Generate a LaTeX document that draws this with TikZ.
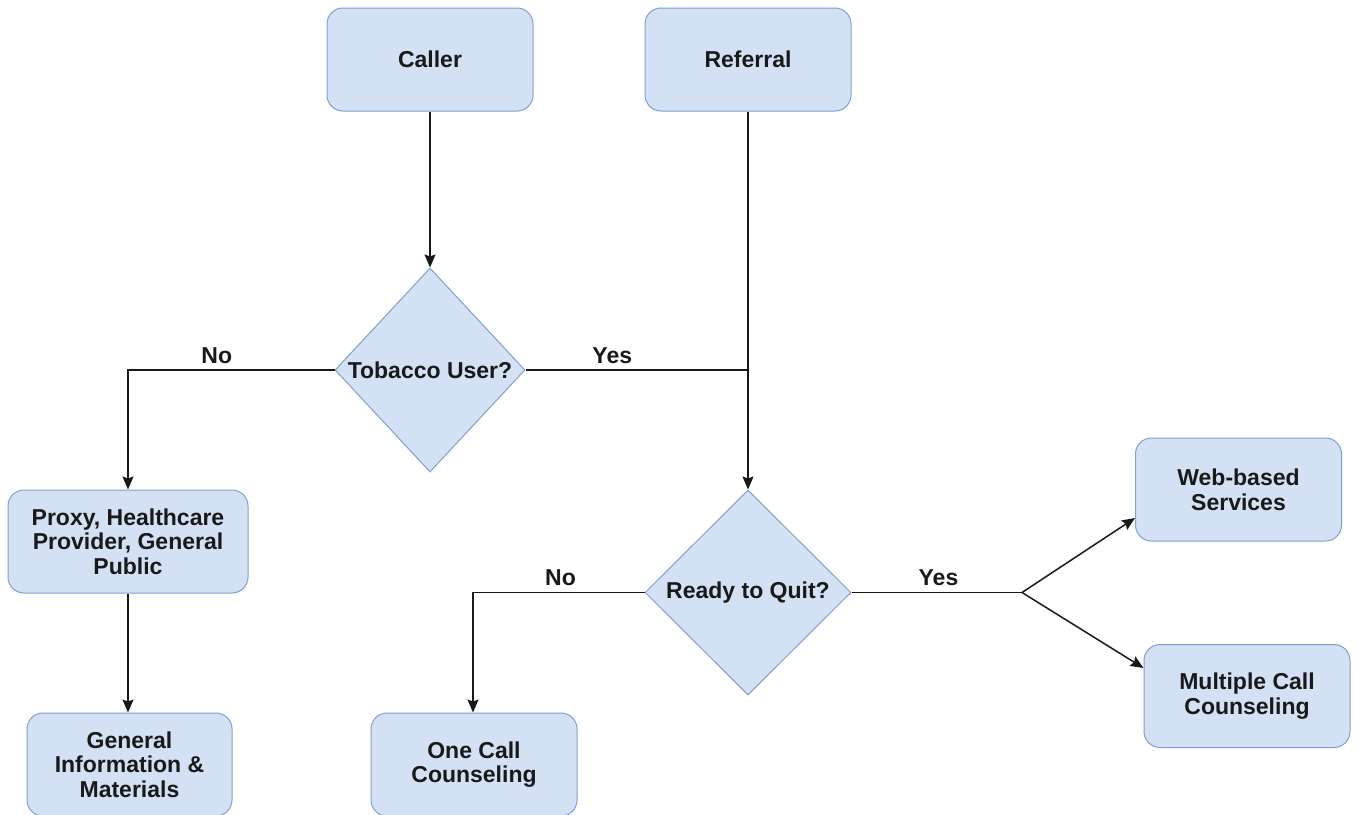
\documentclass[tikz,border=0pt]{standalone}
\usepackage{fontspec}
\setmainfont{Liberation Sans}
\usetikzlibrary{shapes.geometric,arrows.meta,calc}
\definecolor{boxfill}{HTML}{D4E1F5}
\definecolor{boxline}{HTML}{7EA0D0}
\begin{document}
\begin{tikzpicture}[x=0.5pt,y=-0.5pt,
  every node/.style={font=\fontsize{11.5}{12.3}\selectfont\bfseries, text=black!90},
  stepbox/.style={draw=boxline, fill=boxfill, line width=0.5pt, rounded corners=8pt,
    minimum width=#1, minimum height=51.5pt, align=center, inner sep=2pt},
  stepbox/.default=103pt,
  decision/.style={draw=boxline, fill=boxfill, line width=0.5pt, diamond, inner sep=0pt, align=center},
  conn/.style={line width=0.75pt, draw=black!90},
  arr/.style={conn, -{Stealth[length=6.5pt,width=5.5pt,inset=1pt]}},
  lab/.style={above, inner sep=3pt}]
\clip (0,0) rectangle (1354,814);
\fill[white] (0,0) rectangle (1354,814);

\node[stepbox] (caller) at (430,59.5) {Caller};
\node[stepbox] (referral) at (748,59.5) {Referral};
\node[decision, minimum width=95pt, minimum height=102pt] (tobacco) at (430,370) {Tobacco User?};
\node[decision, minimum width=103pt, minimum height=102.5pt] (ready) at (748,592.5) {Ready to Quit?};
\node[stepbox=120pt] (proxy) at (128,541.5) {Proxy, Healthcare\\Provider, General\\Public};
\node[stepbox=102.5pt] (geninfo) at (129.5,764.5) {General\\Information \&\\Materials};
\node[stepbox] (onecall) at (474,764.5) {One Call\\Counseling};
\node[stepbox] (web) at (1238.5,489.5) {Web-based\\Services};
\node[stepbox] (multi) at (1247,696) {Multiple Call\\Counseling};

\coordinate (join) at (tobacco.east -| referral.south);
\coordinate (fork) at (1022,592.5);

\draw[arr] (caller.south) -- (tobacco.north);
\draw[arr] (referral.south) -- (ready.north);
\draw[conn] (tobacco.east) -- node[lab, pos=0.39] {Yes} (join);
\draw[arr] (tobacco.west) -| node[lab, pos=0.285] {No} (proxy.north);
\draw[arr] (proxy.south) -- (proxy.south |- geninfo.north);
\draw[arr] (ready.west) -| node[lab, pos=0.245] {No} ($(onecall.north)+(-1,0)$);
\draw[conn] (ready.east) -- node[lab, pos=0.51] {Yes} (fork);
\draw[arr] (fork) -- ($(web.west)+(0,28.5)$);
\draw[arr] (fork) -- ($(multi.west)+(0,-28)$);
\end{tikzpicture}
\end{document}
